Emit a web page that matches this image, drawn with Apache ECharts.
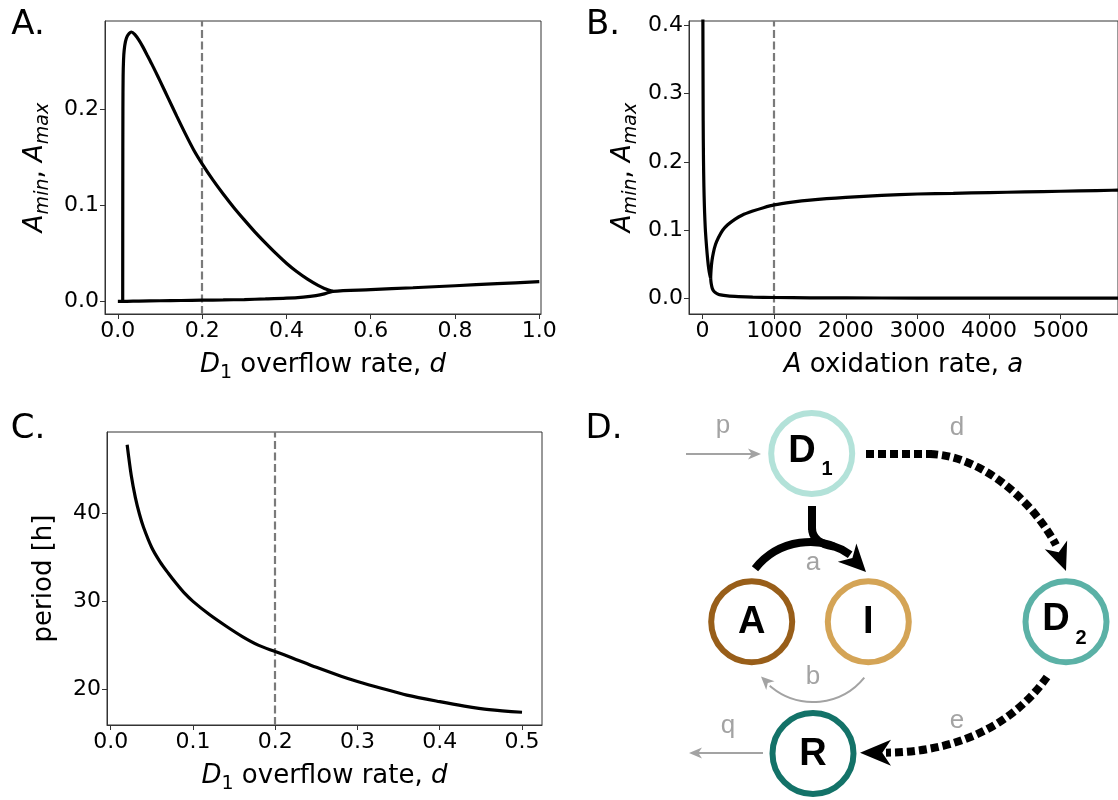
<!DOCTYPE html>
<html>
<head>
<meta charset="utf-8">
<script src="https://cdn.jsdelivr.net/npm/echarts@6/dist/echarts.min.js"></script>
<style>
html,body{margin:0;padding:0;background:#fff;}
#chart{width:1118px;height:800px;}
</style>
</head>
<body>
<div id="chart"></div>
<script>
// ---------- Panel A: A_min / A_max vs d ----------
// upper branch (A_max) from the Hopf point to the merge point
var aD_max = [0.0115, 0.0117, 0.012, 0.0125, 0.0135, 0.015, 0.018, 0.022, 0.027, 0.032, 0.04, 0.05, 0.06, 0.07, 0.08, 0.09, 0.10, 0.12, 0.14, 0.16, 0.18, 0.20, 0.225, 0.25, 0.275, 0.30, 0.325, 0.35, 0.375, 0.40, 0.425, 0.45, 0.475, 0.49, 0.51];
var aA_max = [0, 0.12, 0.2, 0.235, 0.252, 0.262, 0.271, 0.2765, 0.2797, 0.281, 0.2785, 0.2725, 0.265, 0.2565, 0.248, 0.2392, 0.230, 0.2115, 0.193, 0.175, 0.158, 0.1435, 0.127, 0.112, 0.098, 0.085, 0.0725, 0.061, 0.050, 0.0398, 0.0308, 0.0231, 0.0166, 0.0135, 0.0104];
// lower branch (A_min), continuing as the single steady state after the merge
var aD_min = [0, 0.0115, 0.05, 0.1, 0.15, 0.2, 0.25, 0.3, 0.35, 0.4, 0.44, 0.47, 0.49, 0.51, 0.6, 0.7, 0.8, 0.9, 1.0];
var aA_min = [0, 0, 0.0003, 0.0006, 0.0009, 0.0012, 0.0015, 0.0019, 0.0025, 0.0033, 0.0045, 0.006, 0.0078, 0.0104, 0.0122, 0.0142, 0.0163, 0.0184, 0.0205];
var aXTicks = [0, 0.2, 0.4, 0.6, 0.8, 1.0];
var aYTicks = [0, 0.1, 0.2];
var aRef = 0.2;

// ---------- Panel B: A_min / A_max vs a ----------
var bA_ss = [3, 5, 8, 12, 18, 25, 32, 40, 55, 70, 85, 100, 112];
var bV_ss = [0.45, 0.36, 0.26, 0.205, 0.164, 0.135, 0.115, 0.098, 0.076, 0.058, 0.044, 0.035, 0.03];
var bA_hi = [112, 118, 130, 150, 180, 220, 280, 350, 450, 550, 700, 850, 1000, 1250, 1500, 2000, 2500, 3000, 3500, 4000, 4500, 5000, 5500, 6000];
var bV_hi = [0.03, 0.042, 0.055, 0.067, 0.079, 0.089, 0.1, 0.108, 0.116, 0.122, 0.128, 0.133, 0.137, 0.141, 0.144, 0.148, 0.151, 0.153, 0.154, 0.155, 0.156, 0.157, 0.158, 0.159];
var bA_lo = [112, 120, 135, 160, 200, 250, 350, 500, 700, 1000, 1500, 2000, 3000, 4000, 5000, 6000];
var bV_lo = [0.03, 0.022, 0.015, 0.0105, 0.0075, 0.0055, 0.004, 0.003, 0.0022, 0.0017, 0.0013, 0.0011, 0.0009, 0.0008, 0.0007, 0.0007];
var bXTicks = [0, 1000, 2000, 3000, 4000, 5000];
var bYTicks = [0, 0.1, 0.2, 0.3, 0.4];
var bRef = 1000;

// ---------- Panel C: period vs d ----------
var cD = [0.02, 0.025, 0.03, 0.035, 0.04, 0.05, 0.06, 0.07, 0.08, 0.09, 0.10, 0.12, 0.14, 0.16, 0.18, 0.20, 0.22, 0.25, 0.28, 0.30, 0.33, 0.36, 0.40, 0.43, 0.46, 0.50];
var cP = [47.8, 44.3, 41.8, 39.9, 38.4, 36.1, 34.5, 33.2, 32.0, 30.9, 30.0, 28.5, 27.2, 26.0, 25.0, 24.3, 23.6, 22.5, 21.5, 20.9, 20.1, 19.35, 18.6, 18.1, 17.7, 17.4];
var cXTicks = [0, 0.1, 0.2, 0.3, 0.4, 0.5];
var cYTicks = [20, 30, 40];
var cRef = 0.2;

function pairs(xs, ys){ return xs.map(function(x,i){ return [x, ys[i]]; }); }

var AXF = 'DejaVu Sans';
var TICKFS = 22, NAMEFS = 26, SUBFS = 19;
var richName = {
  n: {fontFamily: AXF, fontSize: NAMEFS, color: '#000', verticalAlign: 'bottom', padding: [0,0,5,0]},
  i: {fontFamily: AXF, fontSize: NAMEFS, fontStyle: 'italic', color: '#000', verticalAlign: 'bottom', padding: [0,0,5,0]},
  s: {fontFamily: AXF, fontSize: SUBFS, color: '#000', verticalAlign: 'bottom'},
  si: {fontFamily: AXF, fontSize: SUBFS, fontStyle: 'italic', color: '#000', verticalAlign: 'bottom'}
};

function axis(grid, min, max, ticks, dec, name, gap){
  return {
    gridIndex: grid, type: 'value', min: min, max: max,
    axisLine: {show: true, onZero: false, lineStyle: {color: '#333', width: 1}},
    axisTick: {show: true, length: 5, lineStyle: {color: '#333'}, customValues: ticks},
    axisLabel: {customValues: ticks, fontFamily: AXF, fontSize: TICKFS, color: '#000', margin: 6,
      formatter: function(v){ return v.toFixed(dec); }},
    splitLine: {show: false},
    name: name, nameLocation: 'middle', nameGap: gap,
    nameTextStyle: {fontFamily: AXF, fontSize: NAMEFS, color: '#000', rich: richName}
  };
}
function refLine(x){
  return {silent: true, symbol: ['none','none'], label: {show: false}, z: 1,
    lineStyle: {color: '#7a7a7a', type: [8,3.5], width: 2.2, opacity: 1}, data: [{xAxis: x}]};
}
function curve(xi, yi, data, mark){
  var s = {type: 'line', xAxisIndex: xi, yAxisIndex: yi, data: data, showSymbol: false, symbol: 'none',
    smooth: 0.3,
    lineStyle: {color: '#000', width: 3.2}, z: 3, clip: true};
  if (mark !== undefined) s.markLine = refLine(mark);
  return s;
}

// ---------- Diagram helpers (panel D) ----------
var GRAY = '#a3a3a3';
function head(tip, from, len, hw, color){
  var dx = tip[0]-from[0], dy = tip[1]-from[1], L = Math.hypot(dx,dy), ux = dx/L, uy = dy/L;
  var bx = tip[0]-ux*len, by = tip[1]-uy*len;
  var nx = tip[0]-ux*len*0.72, ny = tip[1]-uy*len*0.72;
  return {type: 'polygon', shape: {points: [[tip[0],tip[1]], [bx-uy*hw, by+ux*hw], [nx, ny], [bx+uy*hw, by-ux*hw]]},
    style: {fill: color}, z: 10};
}
function node(cx, cy, color){
  return {type: 'circle', shape: {cx: cx, cy: cy, r: 40.5}, style: {fill: '#fff', stroke: color, lineWidth: 6}, z: 5};
}
function txt(s, x, y, font, color){
  return {type: 'text', x: x, y: y, style: {text: s, font: font, fill: color, textAlign: 'center', textVerticalAlign: 'middle', align: 'center', verticalAlign: 'middle'}, z: 12};
}
var NF = 'bold 38px "Liberation Sans", Arial, sans-serif';
var SF = 'bold 20px "Liberation Sans", Arial, sans-serif';
var LF = '26px "Liberation Sans", Arial, sans-serif';
var PF = '34px "DejaVu Sans", sans-serif';
var deg = Math.PI/180;

var graphics = [
  txt('A.', 28, 25, PF, '#000'),
  txt('B.', 603, 25, PF, '#000'),
  txt('C.', 28, 429, PF, '#000'),
  txt('D.', 604, 429, PF, '#000'),
  // p inflow
  {type: 'line', shape: {x1: 686, y1: 454, x2: 752, y2: 454}, style: {stroke: GRAY, lineWidth: 2}, z: 8},
  head([761, 454], [740, 454], 13, 5.5, GRAY),
  txt('p', 723, 426, LF, GRAY),
  // q outflow
  {type: 'line', shape: {x1: 763, y1: 753, x2: 698, y2: 753}, style: {stroke: GRAY, lineWidth: 2}, z: 8},
  head([689, 753], [710, 753], 13, 5.5, GRAY),
  txt('q', 728, 726, LF, GRAY),
  // a: stem from D1 and arc A -> I
  {type: 'line', shape: {x1: 812, y1: 506, x2: 812, y2: 530}, style: {stroke: '#000', lineWidth: 8}, z: 8},
  {type: 'bezierCurve', shape: {x1: 812, y1: 528, cpx1: 812, cpy1: 543, x2: 834, y2: 546.5}, style: {stroke: '#000', lineWidth: 8, fill: null}, z: 8},
  {type: 'arc', shape: {cx: 810, cy: 612, r: 70, startAngle: -141.8*deg, endAngle: -55*deg, clockwise: true}, style: {stroke: '#000', lineWidth: 8, fill: null}, z: 8},
  head([866, 572], [847, 552.6], 27, 13, '#000'),
  txt('a', 813, 563, LF, GRAY),
  // b: arc I -> A (gray)
  {type: 'arc', shape: {cx: 813, cy: 636, r: 66, startAngle: 39*deg, endAngle: 131*deg, clockwise: true}, style: {stroke: GRAY, lineWidth: 2, fill: null}, z: 8},
  head([761, 676.6], [775, 690], 13, 6, GRAY),
  txt('b', 813, 677, LF, GRAY),
  // d: dashed D1 -> D2
  {type: 'line', shape: {x1: 866, y1: 454, x2: 932, y2: 454}, style: {stroke: '#000', lineWidth: 8, lineDash: [8,4]}, z: 8},
  {type: 'bezierCurve', shape: {x1: 930, y1: 454, cpx1: 985, cpy1: 456, cpx2: 1035, cpy2: 505, x2: 1056, y2: 545}, style: {stroke: '#000', lineWidth: 8, lineDash: [8,4], fill: null}, z: 8},
  head([1066, 571], [1056, 545], 28, 12, '#000'),
  txt('d', 957, 428, LF, GRAY),
  // e: dashed D2 -> R
  {type: 'bezierCurve', shape: {x1: 1047, y1: 677, cpx1: 1020, cpy1: 715, cpx2: 970, cpy2: 752, x2: 886, y2: 752.7}, style: {stroke: '#000', lineWidth: 8, lineDash: [8,4], fill: null}, z: 8},
  head([860, 752.7], [890, 752.7], 31, 13, '#000'),
  txt('e', 957, 721, LF, GRAY),
  // nodes
  node(811.7, 453.5, '#b3e2d9'),
  node(751.7, 621.7, '#985e19'),
  node(868.3, 621.7, '#d4a456'),
  node(1066, 621.7, '#5bb1a6'),
  node(813, 753.5, '#137268'),
  txt('D', 802, 452, NF, '#000'), txt('1', 827, 469, SF, '#000'),
  txt('A', 751.7, 623, NF, '#000'),
  txt('I', 868.3, 623, NF, '#000'),
  txt('D', 1056, 620, NF, '#000'), txt('2', 1081, 638, SF, '#000'),
  txt('R', 813, 755, NF, '#000')
];

var option = {
  animation: false,
  backgroundColor: '#fff',
  grid: [
    {left: 105, top: 21, width: 436, height: 293, show: true, borderColor: '#333', borderWidth: 1, backgroundColor: 'transparent'},
    {left: 689, top: 21, width: 436, height: 293, show: true, borderColor: '#333', borderWidth: 1, backgroundColor: 'transparent'},
    {left: 107, top: 432, width: 435, height: 293, show: true, borderColor: '#333', borderWidth: 1, backgroundColor: 'transparent'}
  ],
  xAxis: [
    axis(0, -0.0305, 1.004, aXTicks, 1, '{i|D}{s|1}{n| overflow rate, }{i|d}', 38),
    axis(1, -190, 5800, bXTicks, 0, '{i|A}{n| oxidation rate, }{i|a}', 38),
    axis(2, -0.0045, 0.5243, cXTicks, 1, '{i|D}{s|1}{n| overflow rate, }{i|d}', 38)
  ],
  yAxis: [
    axis(0, -0.0132, 0.2925, aYTicks, 1, '{i|A}{si|min}{n|, }{i|A}{si|max}', 52),
    axis(1, -0.0224, 0.4058, bYTicks, 1, '{i|A}{si|min}{n|, }{i|A}{si|max}', 48),
    axis(2, 15.95, 49.25, cYTicks, 0, 'period [h]', 50)
  ],
  series: [
    curve(0, 0, pairs(aD_max, aA_max), aRef),
    curve(0, 0, pairs(aD_min, aA_min)),
    curve(1, 1, pairs(bA_ss, bV_ss), bRef),
    curve(1, 1, pairs(bA_hi, bV_hi)),
    curve(1, 1, pairs(bA_lo, bV_lo)),
    curve(2, 2, pairs(cD, cP), cRef)
  ],
  graphic: graphics
};
var chart = echarts.init(document.getElementById('chart'), null, {renderer: 'canvas'});
chart.setOption(option);
</script>
</body>
</html>
